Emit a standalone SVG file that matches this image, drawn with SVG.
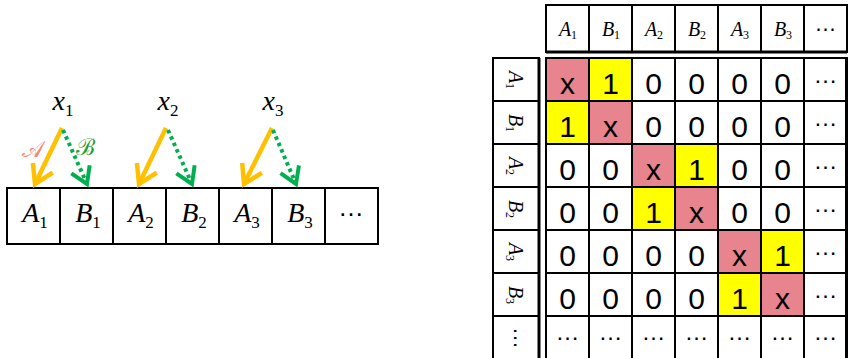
<svg xmlns="http://www.w3.org/2000/svg" width="848" height="358" viewBox="0 0 848 358">
<style>
.bg{fill:#fff}
.box{fill:none;stroke:#000;stroke-width:2}
.cellw{fill:#fff;stroke:#000;stroke-width:2}
.pk{fill:#E8848E;stroke:#000;stroke-width:2}
.yl{fill:#FFFF00;stroke:#000;stroke-width:2}
.sym{font-family:'Liberation Serif','Times New Roman',serif;font-style:italic;fill:#000;text-anchor:middle}
.num{font-family:'Liberation Sans',Arial,sans-serif;font-size:30px;fill:#000;text-anchor:middle}
.dots{font-family:'Liberation Sans',Arial,sans-serif;font-size:24px;fill:#000;text-anchor:middle}
.hd{font-size:20px}
.sub{font-size:12px;font-style:normal}
.big{font-size:28px}
.bsub{font-size:17px;font-style:normal}
.ora{stroke:#FFC000;stroke-width:4.5;fill:none}
.grn{stroke:#00B050;stroke-width:4;fill:none;stroke-dasharray:3.5 3.5}
</style>
<defs>
<marker id="ho" markerUnits="userSpaceOnUse" markerWidth="34" markerHeight="34" viewBox="-26 -17 34 34" refX="0" refY="0" orient="auto">
<path d="M-18,-11 L0,0 L-18,11" fill="none" stroke="#FFC000" stroke-width="4.5"/>
</marker>
<marker id="hg" markerUnits="userSpaceOnUse" markerWidth="34" markerHeight="34" viewBox="-26 -17 34 34" refX="0" refY="0" orient="auto">
<path d="M-16,-10 L0,0 L-16,10" fill="none" stroke="#00B050" stroke-width="4"/>
</marker>
</defs>
<rect class="bg" x="0" y="0" width="848" height="358"/>

<g id="sequence">
<rect class="box" x="7" y="188" width="371" height="56"/>
<line class="box" x1="60" y1="188" x2="60" y2="244"/>
<line class="box" x1="113" y1="188" x2="113" y2="244"/>
<line class="box" x1="166" y1="188" x2="166" y2="244"/>
<line class="box" x1="219" y1="188" x2="219" y2="244"/>
<line class="box" x1="272" y1="188" x2="272" y2="244"/>
<line class="box" x1="325" y1="188" x2="325" y2="244"/>
<text class="sym big" x="35" y="222">A<tspan class="bsub" dy="6">1</tspan></text>
<text class="sym big" x="88" y="222">B<tspan class="bsub" dy="6">1</tspan></text>
<text class="sym big" x="141" y="222">A<tspan class="bsub" dy="6">2</tspan></text>
<text class="sym big" x="194" y="222">B<tspan class="bsub" dy="6">2</tspan></text>
<text class="sym big" x="247" y="222">A<tspan class="bsub" dy="6">3</tspan></text>
<text class="sym big" x="300" y="222">B<tspan class="bsub" dy="6">3</tspan></text>
<text class="dots" x="351" y="216" style="font-size:26px">…</text>
</g>
<g id="x1"><text class="sym big" x="63" y="110">x<tspan class="bsub" dy="6">1</tspan></text></g>
<g id="x2"><text class="sym big" x="168" y="110">x<tspan class="bsub" dy="6">2</tspan></text></g>
<g id="x3"><text class="sym big" x="273" y="110">x<tspan class="bsub" dy="6">3</tspan></text></g>

<g id="connectors">
<line class="ora" x1="62" y1="128" x2="35" y2="184" marker-end="url(#ho)"/>
<line class="grn" x1="63" y1="130" x2="87" y2="184" marker-end="url(#hg)"/>
<line class="ora" x1="166" y1="128" x2="139" y2="184" marker-end="url(#ho)"/>
<line class="grn" x1="168" y1="130" x2="192" y2="184" marker-end="url(#hg)"/>
<line class="ora" x1="272" y1="128" x2="244" y2="184" marker-end="url(#ho)"/>
<line class="grn" x1="273" y1="130" x2="296" y2="184" marker-end="url(#hg)"/>
<text x="33" y="157" style="font-family:'DejaVu Serif',serif;font-size:23px;fill:#F4886E;text-anchor:middle">𝒜</text>
<text x="85" y="155" style="font-family:'DejaVu Serif',serif;font-size:23px;fill:#1FA03A;text-anchor:middle">ℬ</text>
</g>

<g id="col-header">
<rect class="cellw" x="546" y="5" width="43" height="47"/>
<rect class="cellw" x="589" y="5" width="43" height="47"/>
<rect class="cellw" x="632" y="5" width="43" height="47"/>
<rect class="cellw" x="675" y="5" width="43" height="47"/>
<rect class="cellw" x="718" y="5" width="43" height="47"/>
<rect class="cellw" x="761" y="5" width="43" height="47"/>
<rect class="cellw" x="804" y="5" width="43" height="47"/>
<line x1="546" y1="52" x2="847" y2="52" stroke="#000" stroke-width="3"/>
<text class="sym hd" x="568" y="36">A<tspan class="sub" dy="3">1</tspan></text>
<text class="sym hd" x="611" y="36">B<tspan class="sub" dy="3">1</tspan></text>
<text class="sym hd" x="654" y="36">A<tspan class="sub" dy="3">2</tspan></text>
<text class="sym hd" x="697" y="36">B<tspan class="sub" dy="3">2</tspan></text>
<text class="sym hd" x="740" y="36">A<tspan class="sub" dy="3">3</tspan></text>
<text class="sym hd" x="783" y="36">B<tspan class="sub" dy="3">3</tspan></text>
<text class="dots" x="825.5" y="31" style="font-size:22px">…</text>
</g>

<g id="row-header">
<rect class="cellw" x="493" y="58" width="46" height="43"/>
<rect class="cellw" x="493" y="101" width="46" height="43"/>
<rect class="cellw" x="493" y="144" width="46" height="43"/>
<rect class="cellw" x="493" y="187" width="46" height="43"/>
<rect class="cellw" x="493" y="230" width="46" height="43"/>
<rect class="cellw" x="493" y="273" width="46" height="43"/>
<rect class="cellw" x="493" y="316" width="46" height="45"/>
<line x1="539" y1="58" x2="539" y2="360" stroke="#000" stroke-width="3"/>
<text class="sym hd" transform="translate(515,80) rotate(90)" x="0" y="6">A<tspan class="sub" dy="3">1</tspan></text>
<text class="sym hd" transform="translate(515,123) rotate(90)" x="0" y="6">B<tspan class="sub" dy="3">1</tspan></text>
<text class="sym hd" transform="translate(515,166) rotate(90)" x="0" y="6">A<tspan class="sub" dy="3">2</tspan></text>
<text class="sym hd" transform="translate(515,209) rotate(90)" x="0" y="6">B<tspan class="sub" dy="3">2</tspan></text>
<text class="sym hd" transform="translate(515,252) rotate(90)" x="0" y="6">A<tspan class="sub" dy="3">3</tspan></text>
<text class="sym hd" transform="translate(515,295) rotate(90)" x="0" y="6">B<tspan class="sub" dy="3">3</tspan></text>
<text class="dots" transform="translate(516,338) rotate(90)" x="0" y="2" style="font-size:22px">…</text>
</g>

<g id="matrix">
<rect class="pk" x="546" y="58" width="43" height="43"/>
<rect class="yl" x="589" y="58" width="43" height="43"/>
<rect class="cellw" x="632" y="58" width="43" height="43"/>
<rect class="cellw" x="675" y="58" width="43" height="43"/>
<rect class="cellw" x="718" y="58" width="43" height="43"/>
<rect class="cellw" x="761" y="58" width="43" height="43"/>
<rect class="cellw" x="804" y="58" width="43" height="43"/>
<rect class="yl" x="546" y="101" width="43" height="43"/>
<rect class="pk" x="589" y="101" width="43" height="43"/>
<rect class="cellw" x="632" y="101" width="43" height="43"/>
<rect class="cellw" x="675" y="101" width="43" height="43"/>
<rect class="cellw" x="718" y="101" width="43" height="43"/>
<rect class="cellw" x="761" y="101" width="43" height="43"/>
<rect class="cellw" x="804" y="101" width="43" height="43"/>
<rect class="cellw" x="546" y="144" width="43" height="43"/>
<rect class="cellw" x="589" y="144" width="43" height="43"/>
<rect class="pk" x="632" y="144" width="43" height="43"/>
<rect class="yl" x="675" y="144" width="43" height="43"/>
<rect class="cellw" x="718" y="144" width="43" height="43"/>
<rect class="cellw" x="761" y="144" width="43" height="43"/>
<rect class="cellw" x="804" y="144" width="43" height="43"/>
<rect class="cellw" x="546" y="187" width="43" height="43"/>
<rect class="cellw" x="589" y="187" width="43" height="43"/>
<rect class="yl" x="632" y="187" width="43" height="43"/>
<rect class="pk" x="675" y="187" width="43" height="43"/>
<rect class="cellw" x="718" y="187" width="43" height="43"/>
<rect class="cellw" x="761" y="187" width="43" height="43"/>
<rect class="cellw" x="804" y="187" width="43" height="43"/>
<rect class="cellw" x="546" y="230" width="43" height="43"/>
<rect class="cellw" x="589" y="230" width="43" height="43"/>
<rect class="cellw" x="632" y="230" width="43" height="43"/>
<rect class="cellw" x="675" y="230" width="43" height="43"/>
<rect class="pk" x="718" y="230" width="43" height="43"/>
<rect class="yl" x="761" y="230" width="43" height="43"/>
<rect class="cellw" x="804" y="230" width="43" height="43"/>
<rect class="cellw" x="546" y="273" width="43" height="43"/>
<rect class="cellw" x="589" y="273" width="43" height="43"/>
<rect class="cellw" x="632" y="273" width="43" height="43"/>
<rect class="cellw" x="675" y="273" width="43" height="43"/>
<rect class="yl" x="718" y="273" width="43" height="43"/>
<rect class="pk" x="761" y="273" width="43" height="43"/>
<rect class="cellw" x="804" y="273" width="43" height="43"/>
<rect class="cellw" x="546" y="316" width="43" height="45"/>
<rect class="cellw" x="589" y="316" width="43" height="45"/>
<rect class="cellw" x="632" y="316" width="43" height="45"/>
<rect class="cellw" x="675" y="316" width="43" height="45"/>
<rect class="cellw" x="718" y="316" width="43" height="45"/>
<rect class="cellw" x="761" y="316" width="43" height="45"/>
<rect class="cellw" x="804" y="316" width="43" height="45"/>
<line x1="846.5" y1="58" x2="846.5" y2="360" stroke="#000" stroke-width="3"/>

<text class="num" x="567.5" y="94">x</text><text class="num" x="610.5" y="94">1</text><text class="num" x="653.5" y="94">0</text><text class="num" x="696.5" y="94">0</text><text class="num" x="739.5" y="94">0</text><text class="num" x="782.5" y="94">0</text><text class="dots" x="825.5" y="83">…</text>
<text class="num" x="567.5" y="137">1</text><text class="num" x="610.5" y="137">x</text><text class="num" x="653.5" y="137">0</text><text class="num" x="696.5" y="137">0</text><text class="num" x="739.5" y="137">0</text><text class="num" x="782.5" y="137">0</text><text class="dots" x="825.5" y="126">…</text>
<text class="num" x="567.5" y="180">0</text><text class="num" x="610.5" y="180">0</text><text class="num" x="653.5" y="180">x</text><text class="num" x="696.5" y="180">1</text><text class="num" x="739.5" y="180">0</text><text class="num" x="782.5" y="180">0</text><text class="dots" x="825.5" y="169">…</text>
<text class="num" x="567.5" y="223">0</text><text class="num" x="610.5" y="223">0</text><text class="num" x="653.5" y="223">1</text><text class="num" x="696.5" y="223">x</text><text class="num" x="739.5" y="223">0</text><text class="num" x="782.5" y="223">0</text><text class="dots" x="825.5" y="212">…</text>
<text class="num" x="567.5" y="266">0</text><text class="num" x="610.5" y="266">0</text><text class="num" x="653.5" y="266">0</text><text class="num" x="696.5" y="266">0</text><text class="num" x="739.5" y="266">x</text><text class="num" x="782.5" y="266">1</text><text class="dots" x="825.5" y="255">…</text>
<text class="num" x="567.5" y="309">0</text><text class="num" x="610.5" y="309">0</text><text class="num" x="653.5" y="309">0</text><text class="num" x="696.5" y="309">0</text><text class="num" x="739.5" y="309">1</text><text class="num" x="782.5" y="309">x</text><text class="dots" x="825.5" y="298">…</text>
<text class="dots" x="567.5" y="340">…</text><text class="dots" x="610.5" y="340">…</text><text class="dots" x="653.5" y="340">…</text><text class="dots" x="696.5" y="340">…</text><text class="dots" x="739.5" y="340">…</text><text class="dots" x="782.5" y="340">…</text><text class="dots" x="825.5" y="340">…</text>
</g>
</svg>
